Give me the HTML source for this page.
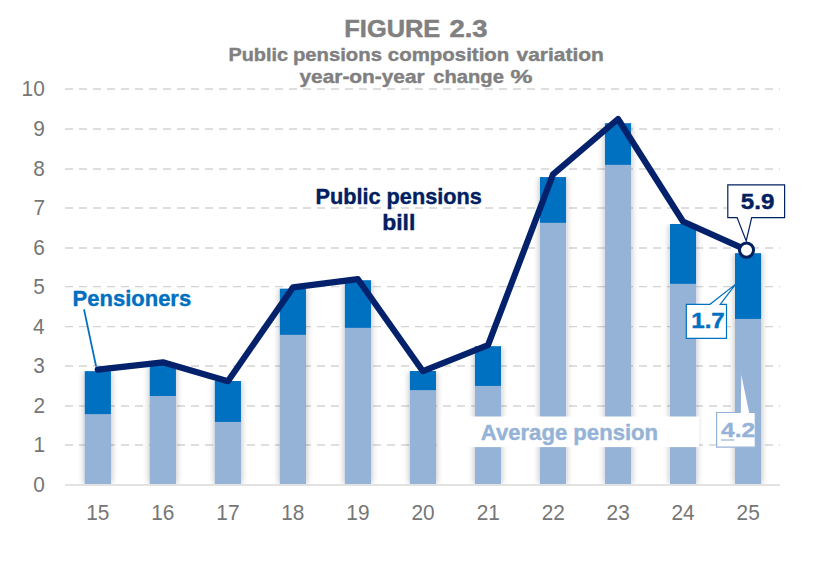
<!DOCTYPE html><html><head><meta charset="utf-8"><style>html,body{margin:0;padding:0;background:#fff;overflow:hidden}svg{display:block;}</style></head><body><svg width="826" height="567" viewBox="0 0 826 567" font-family="Liberation Sans, sans-serif">
<defs><filter id="sh" x="-50%" y="0%" width="200%" height="100%"><feGaussianBlur in="SourceAlpha" stdDeviation="3.5"/><feComponentTransfer><feFuncA type="linear" slope="0.3"/></feComponentTransfer><feMerge><feMergeNode/><feMergeNode in="SourceGraphic"/></feMerge></filter></defs>
<rect width="826" height="567" fill="#fff"/>
<line x1="65" y1="445.00" x2="780" y2="445.00" stroke="#D4D4D4" stroke-width="1.3" stroke-dasharray="8 6"/>
<line x1="65" y1="406.00" x2="780" y2="406.00" stroke="#D4D4D4" stroke-width="1.3" stroke-dasharray="8 6"/>
<line x1="65" y1="366.00" x2="780" y2="366.00" stroke="#D4D4D4" stroke-width="1.3" stroke-dasharray="8 6"/>
<line x1="65" y1="326.60" x2="780" y2="326.60" stroke="#D4D4D4" stroke-width="1.3" stroke-dasharray="8 6"/>
<line x1="65" y1="286.60" x2="780" y2="286.60" stroke="#D4D4D4" stroke-width="1.3" stroke-dasharray="8 6"/>
<line x1="65" y1="248.00" x2="780" y2="248.00" stroke="#D4D4D4" stroke-width="1.3" stroke-dasharray="8 6"/>
<line x1="65" y1="208.00" x2="780" y2="208.00" stroke="#D4D4D4" stroke-width="1.3" stroke-dasharray="8 6"/>
<line x1="65" y1="169.00" x2="780" y2="169.00" stroke="#D4D4D4" stroke-width="1.3" stroke-dasharray="8 6"/>
<line x1="65" y1="129.00" x2="780" y2="129.00" stroke="#D4D4D4" stroke-width="1.3" stroke-dasharray="8 6"/>
<line x1="65" y1="89.00" x2="780" y2="89.00" stroke="#D4D4D4" stroke-width="1.3" stroke-dasharray="8 6"/>
<g filter="url(#sh)"><rect x="84.80" y="371.2" width="26.1" height="112.80" fill="#95B3D7"/></g>
<g filter="url(#sh)"><rect x="149.82" y="364.0" width="26.1" height="120.00" fill="#95B3D7"/></g>
<g filter="url(#sh)"><rect x="214.84" y="381.0" width="26.1" height="103.00" fill="#95B3D7"/></g>
<g filter="url(#sh)"><rect x="279.86" y="288.8" width="26.1" height="195.20" fill="#95B3D7"/></g>
<g filter="url(#sh)"><rect x="344.88" y="280.3" width="26.1" height="203.70" fill="#95B3D7"/></g>
<g filter="url(#sh)"><rect x="409.90" y="371.0" width="26.1" height="113.00" fill="#95B3D7"/></g>
<g filter="url(#sh)"><rect x="474.92" y="346.3" width="26.1" height="137.70" fill="#95B3D7"/></g>
<g filter="url(#sh)"><rect x="539.94" y="177.1" width="26.1" height="306.90" fill="#95B3D7"/></g>
<g filter="url(#sh)"><rect x="604.96" y="123.3" width="26.1" height="360.70" fill="#95B3D7"/></g>
<g filter="url(#sh)"><rect x="669.98" y="224.0" width="26.1" height="260.00" fill="#95B3D7"/></g>
<g filter="url(#sh)"><rect x="735.00" y="253.3" width="26.1" height="230.70" fill="#95B3D7"/></g>
<line x1="65" y1="485" x2="780" y2="485" stroke="#D9D9D9" stroke-width="1.6"/>
<rect x="84.80" y="414.1" width="26.1" height="69.90" fill="#95B3D7"/>
<rect x="84.80" y="371.2" width="26.1" height="42.90" fill="#0070C0"/>
<rect x="149.82" y="396.0" width="26.1" height="88.00" fill="#95B3D7"/>
<rect x="149.82" y="364.0" width="26.1" height="32.00" fill="#0070C0"/>
<rect x="214.84" y="421.9" width="26.1" height="62.10" fill="#95B3D7"/>
<rect x="214.84" y="381.0" width="26.1" height="40.90" fill="#0070C0"/>
<rect x="279.86" y="334.8" width="26.1" height="149.20" fill="#95B3D7"/>
<rect x="279.86" y="288.8" width="26.1" height="46.00" fill="#0070C0"/>
<rect x="344.88" y="327.8" width="26.1" height="156.20" fill="#95B3D7"/>
<rect x="344.88" y="280.3" width="26.1" height="47.50" fill="#0070C0"/>
<rect x="409.90" y="390.1" width="26.1" height="93.90" fill="#95B3D7"/>
<rect x="409.90" y="371.0" width="26.1" height="19.10" fill="#0070C0"/>
<rect x="474.92" y="385.9" width="26.1" height="98.10" fill="#95B3D7"/>
<rect x="474.92" y="346.3" width="26.1" height="39.60" fill="#0070C0"/>
<rect x="539.94" y="222.8" width="26.1" height="261.20" fill="#95B3D7"/>
<rect x="539.94" y="177.1" width="26.1" height="45.70" fill="#0070C0"/>
<rect x="604.96" y="164.8" width="26.1" height="319.20" fill="#95B3D7"/>
<rect x="604.96" y="123.3" width="26.1" height="41.50" fill="#0070C0"/>
<rect x="669.98" y="283.8" width="26.1" height="200.20" fill="#95B3D7"/>
<rect x="669.98" y="224.0" width="26.1" height="59.80" fill="#0070C0"/>
<rect x="735.00" y="318.9" width="26.1" height="165.10" fill="#95B3D7"/>
<rect x="735.00" y="253.3" width="26.1" height="65.60" fill="#0070C0"/>
<text transform="translate(33.20,492.00) scale(0.9300,1)" font-size="22.4" font-weight="normal" fill="#767676">0</text>
<text transform="translate(33.44,452.00) scale(0.9300,1)" font-size="22.4" font-weight="normal" fill="#767676">1</text>
<text transform="translate(33.44,413.00) scale(0.9300,1)" font-size="22.4" font-weight="normal" fill="#767676">2</text>
<text transform="translate(33.20,373.00) scale(0.9300,1)" font-size="22.4" font-weight="normal" fill="#767676">3</text>
<text transform="translate(32.97,333.60) scale(0.9300,1)" font-size="22.4" font-weight="normal" fill="#767676">4</text>
<text transform="translate(33.20,293.60) scale(0.9300,1)" font-size="22.4" font-weight="normal" fill="#767676">5</text>
<text transform="translate(33.20,255.00) scale(0.9300,1)" font-size="22.4" font-weight="normal" fill="#767676">6</text>
<text transform="translate(33.44,215.00) scale(0.9300,1)" font-size="22.4" font-weight="normal" fill="#767676">7</text>
<text transform="translate(33.20,176.00) scale(0.9300,1)" font-size="22.4" font-weight="normal" fill="#767676">8</text>
<text transform="translate(33.20,136.00) scale(0.9300,1)" font-size="22.4" font-weight="normal" fill="#767676">9</text>
<text transform="translate(21.58,96.00) scale(0.9300,1)" font-size="22.4" font-weight="normal" fill="#767676">10</text>
<text transform="translate(86.18,520.00) scale(0.9300,1)" font-size="22.4" font-weight="normal" fill="#767676">15</text>
<text transform="translate(151.20,520.00) scale(0.9300,1)" font-size="22.4" font-weight="normal" fill="#767676">16</text>
<text transform="translate(216.33,520.00) scale(0.9300,1)" font-size="22.4" font-weight="normal" fill="#767676">17</text>
<text transform="translate(281.24,520.00) scale(0.9300,1)" font-size="22.4" font-weight="normal" fill="#767676">18</text>
<text transform="translate(346.37,520.00) scale(0.9300,1)" font-size="22.4" font-weight="normal" fill="#767676">19</text>
<text transform="translate(411.51,520.00) scale(0.9300,1)" font-size="22.4" font-weight="normal" fill="#767676">20</text>
<text transform="translate(476.65,520.00) scale(0.9300,1)" font-size="22.4" font-weight="normal" fill="#767676">21</text>
<text transform="translate(541.66,520.00) scale(0.9300,1)" font-size="22.4" font-weight="normal" fill="#767676">22</text>
<text transform="translate(606.57,520.00) scale(0.9300,1)" font-size="22.4" font-weight="normal" fill="#767676">23</text>
<text transform="translate(671.47,520.00) scale(0.9300,1)" font-size="22.4" font-weight="normal" fill="#767676">24</text>
<text transform="translate(736.61,520.00) scale(0.9300,1)" font-size="22.4" font-weight="normal" fill="#767676">25</text>
<text transform="translate(344.37,36.55) scale(1.0230,1)" font-size="24.8" font-weight="bold" fill="#808080" stroke="#808080" stroke-width="0.5" stroke-linejoin="round">FIGURE</text>
<text transform="translate(449.45,36.55) scale(1.1068,1)" font-size="24.8" font-weight="bold" fill="#808080" stroke="#808080" stroke-width="0.5" stroke-linejoin="round">2.3</text>
<text transform="translate(228.52,60.90) scale(1.0791,1)" font-size="18.4" font-weight="bold" fill="#808080" stroke="#808080" stroke-width="0.4" stroke-linejoin="round">Public</text>
<text transform="translate(292.90,60.90) scale(1.1028,1)" font-size="18.4" font-weight="bold" fill="#808080" stroke="#808080" stroke-width="0.4" stroke-linejoin="round">pensions</text>
<text transform="translate(387.84,60.90) scale(1.1109,1)" font-size="18.4" font-weight="bold" fill="#808080" stroke="#808080" stroke-width="0.4" stroke-linejoin="round">composition</text>
<text transform="translate(516.50,60.90) scale(1.1393,1)" font-size="18.4" font-weight="bold" fill="#808080" stroke="#808080" stroke-width="0.4" stroke-linejoin="round">variation</text>
<text transform="translate(299.50,83.20) scale(1.1329,1)" font-size="18.4" font-weight="bold" fill="#808080" stroke="#808080" stroke-width="0.4" stroke-linejoin="round">year-on-year</text>
<text transform="translate(433.25,83.20) scale(1.0976,1)" font-size="18.4" font-weight="bold" fill="#808080" stroke="#808080" stroke-width="0.4" stroke-linejoin="round">change</text>
<text transform="translate(510.47,83.20) scale(1.3397,1)" font-size="18.4" font-weight="bold" fill="#808080" stroke="#808080" stroke-width="0.4" stroke-linejoin="round">%</text>
<rect x="441" y="416.5" width="258.1" height="30.6" fill="#fff"/>
<text transform="translate(480.74,439.70) scale(1.0439,1)" font-size="21.2" font-weight="bold" fill="#95B3D7" stroke="#95B3D7" stroke-width="0.4" stroke-linejoin="round">Average pension</text>
<line x1="84" y1="309.4" x2="96.1" y2="366.4" stroke="#0070C0" stroke-width="1.8"/>
<text transform="translate(72.60,306.20) scale(1.0379,1)" font-size="21.2" font-weight="bold" fill="#0070C0" stroke="#0070C0" stroke-width="0.4" stroke-linejoin="round">Pensioners</text>
<polyline points="97.8,369.6 162.9,362.3 227.9,381.2 292.9,287.4 357.9,279.2 422.9,371.2 488.0,345.2 553.0,174.3 618.0,119.0 683.0,221.5 746.8,250.1" fill="none" stroke="#04216C" stroke-width="6.2" stroke-linejoin="round" stroke-linecap="round"/>
<text transform="translate(315.43,204.00) scale(1.0148,1)" font-size="21.4" font-weight="bold" fill="#002060" stroke="#002060" stroke-width="0.4" stroke-linejoin="round">Public pensions</text>
<text transform="translate(382.16,230.00) scale(1.0726,1)" font-size="21.4" font-weight="bold" fill="#002060" stroke="#002060" stroke-width="0.4" stroke-linejoin="round">bill</text>
<path d="M686.3,304.3 H710 L735.7,284.1 L720.2,304.3 H726.5 V338.4 H686.3 Z" fill="#fff" stroke="#0070C0" stroke-width="1.2"/>
<text transform="translate(691.19,328.40) scale(1.1250,1)" font-size="21.5" font-weight="bold" fill="#0070C0" stroke="#0070C0" stroke-width="0.4" stroke-linejoin="round">1.7</text>
<path d="M716.6,412.5 H740.2 L740.8,369.5 L749.7,412.5 H755.3 V447.2 H716.6 Z" fill="#fff" stroke="#95B3D7" stroke-width="1.2"/>
<text transform="translate(721.10,437.30) scale(1.1649,1)" font-size="21.0" font-weight="bold" fill="#95B3D7" stroke="#95B3D7" stroke-width="0.4" stroke-linejoin="round">4.2</text>
<line x1="721" y1="440" x2="734.4" y2="440" stroke="#95B3D7" stroke-width="1.2"/>
<path d="M727.8,184.8 H784.6 V217.6 H751.7 L746.2,240.9 L737.1,217.6 H727.8 Z" fill="#fff" stroke="#002060" stroke-width="1.2"/>
<text transform="translate(740.84,208.50) scale(1.1235,1)" font-size="21.5" font-weight="bold" fill="#002060" stroke="#002060" stroke-width="0.4" stroke-linejoin="round">5.9</text>
<circle cx="746.5" cy="250.1" r="7.05" fill="#fff" stroke="#002060" stroke-width="3.0"/>
</svg></body></html>
